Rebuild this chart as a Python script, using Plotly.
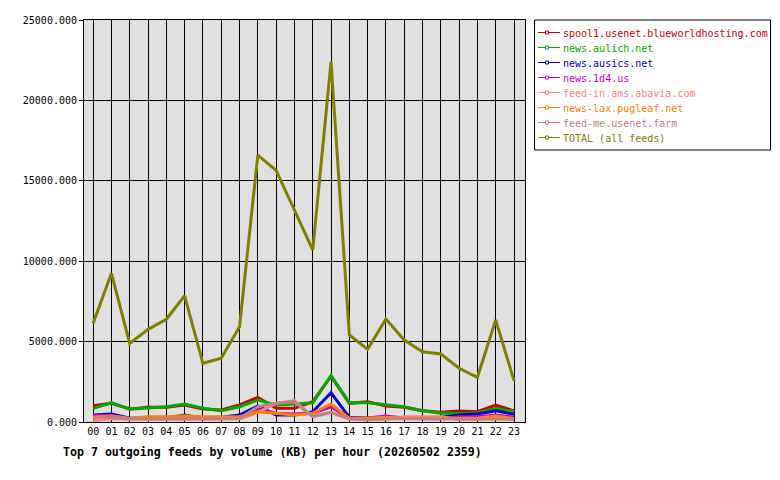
import plotly.graph_objects as go

hours = list(range(24))
hour_labels = [f"{h:02d}" for h in hours]

feed_names = [
    "spool1.usenet.blueworldhosting.com",
    "news.aulich.net",
    "news.ausics.net",
    "news.1d4.us",
    "feed-in.ams.abavia.com",
    "news-lax.pugleaf.net",
    "feed-me.usenet.farm",
    "TOTAL (all feeds)",
]
feed_colors = ["#cc0000", "#00aa00", "#0000cc", "#cc00cc", "#ff8080", "#ff8000", "#c08080", "#808000"]

spool1 = [1010, 1160, 808, 912, 912, 1050, 808, 746, 1057, 1535, 850, 850, 1265, 2850, 1160, 1265, 1000, 912, 700, 600, 684, 640, 1057, 684]
aulich = [850, 1200, 790, 850, 950, 1120, 850, 705, 950, 1368, 1057, 1120, 1200, 2880, 1200, 1200, 1057, 950, 700, 540, 540, 560, 850, 640]
ausics = [435, 500, 228, 228, 228, 435, 207, 290, 435, 995, 435, 435, 640, 1820, 290, 228, 290, 228, 228, 290, 435, 500, 700, 477]
n1d4 = [435, 400, 207, 207, 207, 250, 207, 207, 290, 800, 540, 500, 540, 950, 250, 250, 373, 250, 207, 207, 330, 330, 435, 290]
feedin = [80, 200, 160, 160, 160, 160, 160, 160, 180, 600, 1160, 1325, 330, 600, 160, 150, 160, 330, 330, 330, 160, 160, 250, 150]
pugleaf = [290, 373, 228, 330, 330, 390, 330, 330, 330, 640, 540, 435, 540, 1120, 228, 228, 290, 228, 228, 228, 228, 228, 373, 207]
feedme = [290, 330, 207, 207, 207, 207, 207, 207, 230, 950, 1160, 1260, 330, 600, 228, 124, 207, 207, 207, 207, 207, 207, 207, 170]
total = [6140, 9250, 4890, 5760, 6390, 7850, 3650, 3960, 5930, 16600, 15650, 13180, 10700, 22400, 5410, 4520, 6400, 5100, 4370, 4230, 3340, 2780, 6340, 2570]

series = [spool1, aulich, ausics, n1d4, feedin, pugleaf, feedme, total]

font = "DejaVu Sans Mono"

# plot area in pixels (for converting legend placement to paper coords)
PL, PR, PT, PB = 84, 525, 20, 422
def px(x):
    return (x - PL) / (PR - PL)
def py(y):
    return (PB - y) / (PB - PT)

fig = go.Figure()
for name, color, vals in zip(feed_names, feed_colors, series):
    fig.add_trace(go.Scatter(
        x=hours, y=vals, mode="lines",
        name=name, showlegend=False,
        line=dict(color=color, width=3),
        hoverinfo="skip",
    ))

shapes = [dict(type="rect", xref="paper", yref="paper",
               x0=px(534.5), x1=px(770.5), y0=py(20), y1=py(150),
               line=dict(color="black", width=1), fillcolor="white", layer="above")]
annotations = []
for i, (name, color) in enumerate(zip(feed_names, feed_colors)):
    yc = 32.5 + 15 * i
    shapes.append(dict(type="line", xref="paper", yref="paper",
                       x0=px(538), x1=px(560), y0=py(yc), y1=py(yc),
                       line=dict(color=color, width=1), layer="above"))
    shapes.append(dict(type="rect", xref="paper", yref="paper",
                       x0=px(545.5), x1=px(548.5), y0=py(yc - 1.5), y1=py(yc + 1.5),
                       line=dict(color=color, width=1), fillcolor="white", layer="above"))
    annotations.append(dict(text=name, xref="paper", yref="paper",
                            x=px(561), y=py(yc + 0.5), xanchor="left", yanchor="middle",
                            showarrow=False, font=dict(family=font, size=10, color=color)))

annotations.append(dict(
    text="<b>Top 7 outgoing feeds by volume (KB) per hour (20260502 2359)</b>",
    xref="paper", yref="paper", x=px(61), y=py(452),
    xanchor="left", yanchor="middle", showarrow=False,
    font=dict(family=font, size=11.6, color="black"),
))

fig.update_layout(
    width=780, height=480,
    margin=dict(l=PL, r=780 - PR, t=PT, b=480 - PB, autoexpand=False),
    paper_bgcolor="white", plot_bgcolor="#e0e0e0",
    font=dict(family=font, size=10, color="black"),
    showlegend=False,
    xaxis=dict(
        range=[-0.5, 23.6], tickvals=hours, ticktext=hour_labels,
        showgrid=True, gridcolor="black", gridwidth=1,
        showline=True, linecolor="black", linewidth=1, mirror=True,
        zeroline=False, ticks="", tickfont=dict(family=font, size=10),
    ),
    yaxis=dict(
        range=[0, 25000], dtick=5000, tickformat=".3f",
        showgrid=True, gridcolor="black", gridwidth=1,
        showline=True, linecolor="black", linewidth=1, mirror=True,
        zeroline=False, ticks="outside", ticklen=4, tickcolor="black",
        tickfont=dict(family=font, size=10),
    ),
    shapes=shapes,
    annotations=annotations,
)

fig.write_html("out.html")
